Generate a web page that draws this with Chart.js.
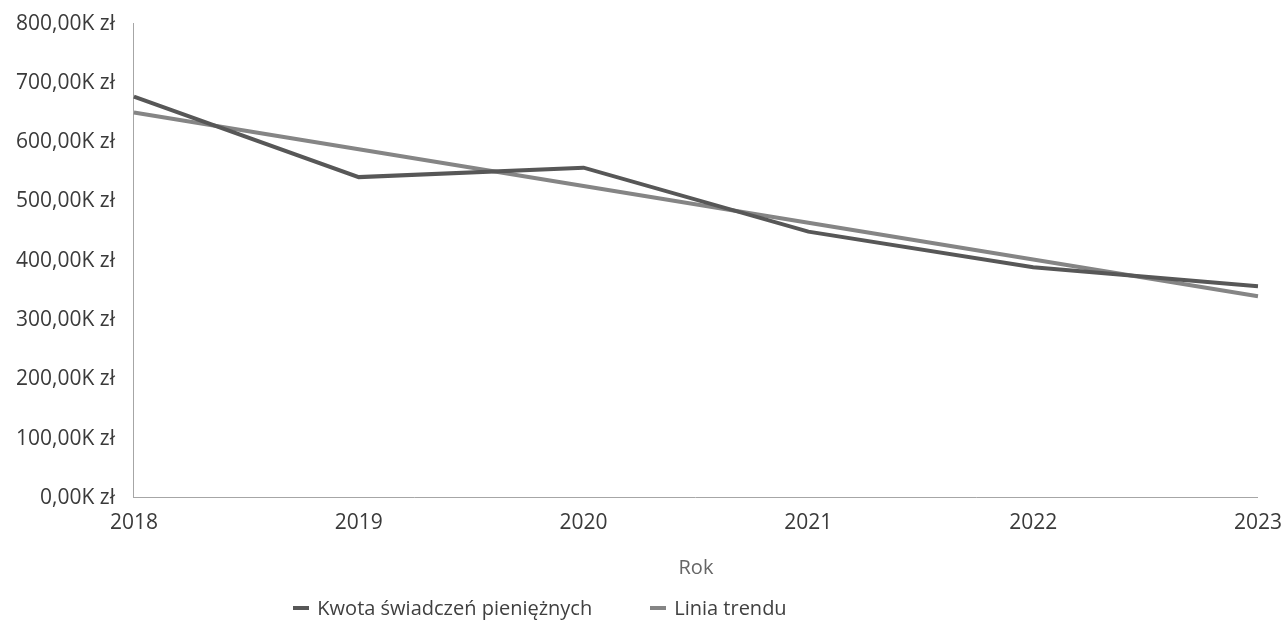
<!DOCTYPE html>
<html>
<head>
<meta charset="utf-8">
<script src="https://cdn.jsdelivr.net/npm/chart.js@4"></script>
<style>
  html, body { margin: 0; background: #fff; overflow: hidden; }
  #wrap { position: relative; width: 1283px; height: 623px; overflow: hidden; }
  #myChart { position: absolute; left: -3px; top: -8px; }
  #legend {
    position: absolute; left: 0; width: 1080px; top: 594px;
    display: flex; justify-content: center; gap: 58px;
    font-family: "Open Sans", sans-serif; font-size: 20px; color: #404040;
  }
  .item { display: flex; align-items: center; }
  .mark { width: 16px; height: 4px; margin-right: 8px; }
</style>
</head>
<body>
<div id="wrap">
  <canvas id="myChart" width="1298" height="631"></canvas>
  <div id="legend"></div>
</div>
<script>
"use strict";

// Data
const years = ["2018", "2019", "2020", "2021", "2022", "2023"];
const amounts = [677000, 541000, 557000, 449000, 389000, 357000];
const trend = [650000, 588000, 526000, 464000, 402000, 340000];
const seriesNames = ["Kwota świadczeń pieniężnych", "Linia trendu"];
const seriesColors = ["#575757", "#858585"];

Chart.defaults.font.family = "'Open Sans', sans-serif";
Chart.defaults.font.size = 21;
Chart.defaults.color = "#3a3a3a";

const formatTick = function (value) {
  return (value / 1000).toFixed(2).replace(".", ",") + "K zł";
};

// HTML legend built from the datasets
const htmlLegend = {
  id: "htmlLegend",
  afterUpdate(chart) {
    const box = document.getElementById("legend");
    box.innerHTML = "";
    chart.data.datasets.forEach((ds) => {
      const item = document.createElement("div");
      item.className = "item";
      const mark = document.createElement("span");
      mark.className = "mark";
      mark.style.background = ds.borderColor;
      const txt = document.createElement("span");
      txt.textContent = ds.label;
      item.appendChild(mark);
      item.appendChild(txt);
      box.appendChild(item);
    });
  },
};

const ctx = document.getElementById("myChart").getContext("2d");

const myChart = new Chart(ctx, {
  type: "line",
  data: {
    labels: years,
    datasets: [
      {
        label: seriesNames[0],
        data: amounts,
        borderColor: seriesColors[0],
        borderWidth: 4,
        pointRadius: 0,
        tension: 0,
      },
      {
        label: seriesNames[1],
        data: trend,
        borderColor: seriesColors[1],
        borderWidth: 4,
        pointRadius: 0,
        tension: 0,
      },
    ],
  },
  options: {
    responsive: false,
    animation: false,
    layout: {
      padding: { left: 0, right: 0, top: 0, bottom: 43 },
    },
    scales: {
      x: {
        offset: false,
        grid: { display: false, drawTicks: false },
        border: { display: true, color: "#a6a6a6", width: 1 },
        ticks: { padding: 13, maxRotation: 0 },
        title: {
          display: true,
          text: "Rok",
          color: "#666666",
          font: { size: 20 },
          padding: { top: 7, bottom: 0 },
        },
      },
      y: {
        min: 0,
        max: 800000,
        grid: { display: false, drawTicks: false },
        border: { display: true, color: "#a6a6a6", width: 1 },
        ticks: {
          stepSize: 100000,
          padding: 19,
          callback: formatTick,
        },
      },
    },
    plugins: {
      legend: { display: false },
      tooltip: { enabled: false },
    },
  },
  plugins: [htmlLegend],
});
</script>
</body>
</html>
